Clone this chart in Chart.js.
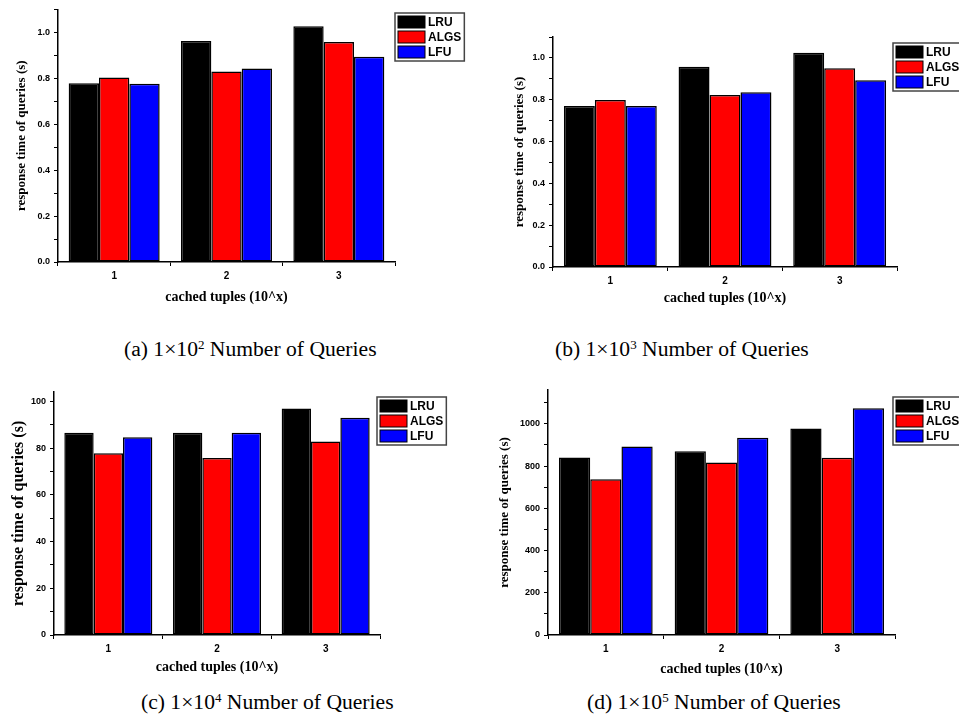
<!DOCTYPE html>
<html>
<head>
<meta charset="utf-8">
<script src="https://cdn.jsdelivr.net/npm/chart.js@4.4.1/dist/chart.umd.min.js"></script>
<style>
  html, body { margin: 0; padding: 0; background: #fff; width: 959px; height: 717px; overflow: hidden; }
  .panel { position: absolute; }
  .caption {
    position: absolute;
    font-family: 'Liberation Serif', 'Times New Roman', serif;
    font-size: 21.6px;
    line-height: 21px;
    color: #000;
    white-space: nowrap;
  }
  .caption sup { font-size: 13px; vertical-align: 7px; line-height: 0; }
</style>
</head>
<body>
<div class="panel" style="left:0px;top:0px"><canvas id="chartA" width="480" height="310"></canvas></div>
<div class="panel" style="left:480px;top:0px"><canvas id="chartB" width="500" height="310"></canvas></div>
<div class="panel" style="left:0px;top:380px"><canvas id="chartC" width="480" height="300"></canvas></div>
<div class="panel" style="left:480px;top:380px"><canvas id="chartD" width="500" height="300"></canvas></div>

<div class="caption" style="left:124px;top:339px">(a) 1×10<sup>2</sup> Number of Queries</div>
<div class="caption" style="left:555px;top:339px">(b) 1×10<sup>3</sup> Number of Queries</div>
<div class="caption" style="left:141px;top:692px">(c) 1×10<sup>4</sup> Number of Queries</div>
<div class="caption" style="left:587px;top:692px">(d) 1×10<sup>5</sup> Number of Queries</div>

<script>
// cached tuples (10^x)
const categories = ['1', '2', '3'];
const seriesNames = ['LRU', 'ALGS', 'LFU'];
const seriesColors = ['#000000', '#ff0000', '#0000ff'];

// (a) 1x10^2 queries
const q2LRU = [0.778, 0.962, 1.027];
const q2ALGS = [0.803, 0.830, 0.958];
const q2LFU = [0.776, 0.843, 0.894];

// (b) 1x10^3 queries
const q3LRU = [0.770, 0.958, 1.025];
const q3ALGS = [0.799, 0.823, 0.951];
const q3LFU = [0.770, 0.836, 0.893];

// (c) 1x10^4 queries
const q4LRU = [86.6, 86.6, 96.9];
const q4ALGS = [77.8, 75.8, 82.8];
const q4LFU = [84.6, 86.6, 93.0];

// (d) 1x10^5 queries
const q5LRU = [840, 870, 978];
const q5ALGS = [738, 817, 839];
const q5LFU = [892, 934, 1074];

// labelled y ticks
const ticksSmall = [0, 0.2, 0.4, 0.6, 0.8, 1.0];
const ticksHundred = [0, 20, 40, 60, 80, 100];
const ticksThousand = [0, 200, 400, 600, 800, 1000];

const yTitle = 'response time of queries (s)';
const xTitle = 'cached tuples (10^x)';

// legend with a frame, drawn next to the plot area
const boxLegend = {
    id: 'boxLegend',
    afterDraw: function (chart, args, opts) {
        const ctx = chart.ctx;
        const x = opts.left, y = opts.top, rowH = opts.rowHeight;
        const items = chart.data.datasets;
        ctx.save();
        ctx.font = 'bold 12px "Liberation Sans", Arial, sans-serif';
        let textW = 0;
        items.forEach(function (ds) { textW = Math.max(textW, ctx.measureText(ds.label).width); });
        const w = 3 + 27 + 3 + textW + 3;
        const h = rowH * items.length + 3;
        ctx.fillStyle = '#fff';
        ctx.fillRect(x, y, w, h);
        items.forEach(function (ds, i) {
            const by = y + 2 + i * rowH;
            ctx.fillStyle = ds.backgroundColor;
            ctx.fillRect(x + 3, by + 1, 27, rowH - 3);
            ctx.lineWidth = 1;
            ctx.strokeStyle = '#000';
            ctx.strokeRect(x + 3, by + 1, 27, rowH - 3);
            ctx.fillStyle = '#000';
            ctx.textBaseline = 'middle';
            ctx.fillText(ds.label, x + 33, by + rowH / 2);
        });
        ctx.lineWidth = 1.5;
        ctx.strokeStyle = '#444';
        ctx.strokeRect(x, y, w, h);
        ctx.restore();
    }
};

function makePanel(canvasId, values, p) {
    const canvas = document.getElementById(canvasId);
    const W = canvas.width, H = canvas.height;
    new Chart(canvas, {
        type: 'bar',
        data: {
            labels: categories,
            datasets: values.map(function (vals, i) {
                return {
                    label: seriesNames[i],
                    data: vals,
                    backgroundColor: seriesColors[i],
                    borderColor: '#000',
                    borderWidth: 1.5,
                    borderSkipped: false,
                    barPercentage: 1.0,
                    categoryPercentage: 0.81
                };
            })
        },
        options: {
            responsive: false,
            animation: false,
            layout: { padding: { left: 0, top: p.top, right: W - p.right, bottom: 0 } },
            scales: {
                x: {
                    offset: true,
                    grid: { drawOnChartArea: false, drawTicks: true, tickLength: 4, color: '#000', offset: true },
                    border: { color: '#000', width: 1.5 },
                    ticks: { color: '#000', padding: 4, font: { size: 10, weight: 'bold', family: '"Liberation Sans", Arial, sans-serif' } },
                    title: {
                        display: true,
                        text: xTitle,
                        color: '#000',
                        font: { size: 14, weight: 'bold', family: '"Liberation Serif", "Times New Roman", serif' },
                        padding: { top: 0, bottom: p.xTitleBottom }
                    },
                    afterFit: function (scale) { scale.height = H - p.bottom; }
                },
                y: {
                    min: 0,
                    max: p.yMax,
                    grid: { drawOnChartArea: false, drawTicks: true, tickLength: 4, color: '#000' },
                    border: { color: '#000', width: 1.5 },
                    ticks: {
                        stepSize: p.step,
                        includeBounds: false,
                        autoSkip: false,
                        color: '#000',
                        padding: 4,
                        font: { size: 9, weight: 'bold', family: '"Liberation Sans", Arial, sans-serif' },
                        callback: function (v) {
                            const hit = p.labelled.some(function (t) { return Math.abs(t - v) < 1e-6; });
                            return hit ? v.toFixed(p.decimals) : '';
                        }
                    },
                    title: {
                        display: true,
                        text: yTitle,
                        color: '#000',
                        font: { size: p.yTitleSize, weight: 'bold', family: '"Liberation Serif", "Times New Roman", serif' },
                        padding: { top: p.yTitleLeft, bottom: 0 }
                    },
                    afterFit: function (scale) { scale.width = p.left; }
                }
            },
            plugins: {
                legend: { display: false },
                tooltip: { enabled: false },
                boxLegend: { left: p.legendLeft, top: p.legendTop, rowHeight: 15 }
            }
        },
        plugins: [boxLegend]
    });
}

makePanel('chartA', [q2LRU, q2ALGS, q2LFU], {
    left: 58, right: 395, top: 6, bottom: 262,
    yMax: 1.1, step: 0.1, labelled: ticksSmall, decimals: 1,
    yTitleSize: 13, yTitleLeft: 14, xTitleBottom: 4,
    legendLeft: 395, legendTop: 13
});
makePanel('chartB', [q3LRU, q3ALGS, q3LFU], {
    left: 73, right: 417, top: 37, bottom: 267,
    yMax: 1.1, step: 0.1, labelled: ticksSmall, decimals: 1,
    yTitleSize: 13, yTitleLeft: 32, xTitleBottom: 3,
    legendLeft: 413, legendTop: 43
});
makePanel('chartC', [q4LRU, q4ALGS, q4LFU], {
    left: 54, right: 380, top: 12, bottom: 255,
    yMax: 104, step: 10, labelled: ticksHundred, decimals: 0,
    yTitleSize: 16, yTitleLeft: 9, xTitleBottom: 4,
    legendLeft: 377, legendTop: 17
});
makePanel('chartD', [q5LRU, q5ALGS, q5LFU], {
    left: 68, right: 415, top: 10, bottom: 255,
    yMax: 1160, step: 100, labelled: ticksThousand, decimals: 0,
    yTitleSize: 13, yTitleLeft: 17, xTitleBottom: 2,
    legendLeft: 413, legendTop: 17
});
</script>
</body>
</html>
